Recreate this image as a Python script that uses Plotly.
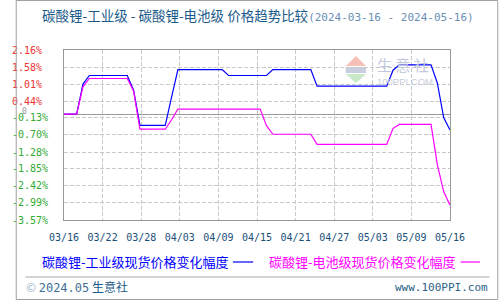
import pandas as pd
import plotly.graph_objects as go

# ---- data -------------------------------------------------------------
start_date = "2024-03-16"
end_date = "2024-05-16"

# daily price change (%) relative to 2024-03-16
industrial_pct = [
    0.00, 0.00, 0.00, 1.01, 1.30, 1.30, 1.30, 1.30, 1.30, 1.30,
    1.30, 0.81, -0.38, -0.38, -0.38, -0.38, -0.38, 0.57, 1.50, 1.50,
    1.50, 1.50, 1.50, 1.50, 1.50, 1.50, 1.30, 1.30, 1.30, 1.30,
    1.30, 1.30, 1.30, 1.50, 1.50, 1.50, 1.50, 1.50, 1.50, 1.50,
    0.94, 0.94, 0.94, 0.94, 0.94, 0.94, 0.94, 0.94, 0.94, 0.94,
    0.94, 0.94, 1.48, 1.66, 1.66, 1.66, 1.66, 1.66, 1.66, 1.05,
    -0.12, -0.54,
]
battery_pct = [
    0.00, 0.00, 0.00, 0.92, 1.20, 1.20, 1.20, 1.20, 1.20, 1.20,
    1.20, 0.77, -0.51, -0.51, -0.51, -0.51, -0.51, -0.19, 0.17, 0.17,
    0.17, 0.17, 0.17, 0.17, 0.17, 0.17, 0.17, 0.17, 0.17, 0.17,
    0.17, 0.17, -0.39, -0.68, -0.68, -0.68, -0.68, -0.68, -0.68, -0.68,
    -1.02, -1.02, -1.02, -1.02, -1.02, -1.02, -1.02, -1.02, -1.02, -1.02,
    -1.02, -1.02, -0.48, -0.35, -0.35, -0.35, -0.35, -0.35, -0.35, -1.70,
    -2.61, -3.07,
]

series_names = ["碳酸锂-工业级现货价格变化幅度", "碳酸锂-电池级现货价格变化幅度"]
series_colors = ["#0000ff", "#ff00ff"]

x_tick_labels = ["03/16", "03/22", "03/28", "04/03", "04/09", "04/15",
                 "04/21", "04/27", "05/03", "05/09", "05/16"]
y_tick_values = [2.16, 1.58, 1.01, 0.44, -0.13, -0.70, -1.28, -1.85,
                 -2.42, -2.99, -3.57]

title_main = "碳酸锂-工业级 - 碳酸锂-电池级 价格趋势比较"
title_dates = "(2024-03-16 - 2024-05-16)"

# ---- geometry ---------------------------------------------------------
W, H = 500, 300
ML, MR, MT, MB = 50, 50, 50, 80
PW, PH = W - ML - MR, H - MT - MB


def px(x):
    return (x - ML) / PW


def py(y):
    return (H - MB - y) / PH


dates = pd.date_range(start_date, end_date, freq="D")
t0, t1 = dates[0], dates[-1]
x_tick_vals = [t0 + (t1 - t0) * i / (len(x_tick_labels) - 1) for i in range(len(x_tick_labels))]

CJK = "Noto Sans CJK SC"
MONO = "DejaVu Sans Mono"

fig = go.Figure()
for vals, name, color in zip([industrial_pct, battery_pct], series_names, series_colors):
    fig.add_trace(go.Scatter(x=dates, y=vals, mode="lines", name=name,
                             line=dict(color=color, width=1.2), showlegend=False))

# y tick labels: positive red, negative green; trailing pad keeps them left-aligned
y_tick_text = []
for v in y_tick_values:
    col = "#ee3333" if v > 0 else "#33aa33"
    s = f"{v:.2f}%"
    if v > 0:
        s = s + "\u00a0"
    y_tick_text.append(f'<span style="color:{col}">{s}</span>')

grid = "#c8c8c8"
fig.update_xaxes(
    range=[t0, t1], tickvals=x_tick_vals, ticktext=x_tick_labels,
    tickfont=dict(family=MONO, size=10, color="#1a4f7a"),
    showgrid=True, gridcolor=grid, griddash="4px,2px", gridwidth=1,
    showline=True, linecolor="#999999", linewidth=1, mirror=True,
    ticks="outside", ticklen=0, ticklabelstandoff=8, zeroline=False,
)
fig.update_yaxes(
    range=[min(y_tick_values), max(y_tick_values)],
    tickvals=y_tick_values, ticktext=y_tick_text,
    tickfont=dict(family=MONO, size=10),
    showgrid=True, gridcolor=grid, griddash="4px,2px", gridwidth=1,
    showline=True, linecolor="#999999", linewidth=1, mirror=True,
    zeroline=True, zerolinecolor="#999999", zerolinewidth=1,
    ticks="outside", ticklen=0, ticklabelstandoff=13,
)

ann = []
shapes = []

# title
ann.append(dict(
    text=f'<span style="color:#1a5a8a">{title_main}</span>'
         f'<span style="color:#6a8fb5;font-family:{MONO};font-size:11px">{title_dates}</span>',
    x=px(25), y=py(15), xref="paper", yref="paper", xanchor="left", yanchor="middle",
    showarrow=False, font=dict(family=CJK, size=13.5, color="#1a5a8a"),
))

# zero marker next to y axis
ann.append(dict(text="0", x=px(4), y=0, xref="paper", yref="y", xanchor="left",
                yanchor="middle", yshift=3, showarrow=False,
                font=dict(family=MONO, size=8, color="#999999")))

# legend rows
legend_pos = [(25, 225, 246), (260, 461, 481)]
for (tx, lx0, lx1), name, color in zip(legend_pos, series_names, series_colors):
    ann.append(dict(text=name, x=px(tx), y=py(261), xref="paper", yref="paper",
                    xanchor="left", yanchor="middle", showarrow=False,
                    font=dict(family=CJK, size=13, color=color)))
    shapes.append(dict(type="line", xref="paper", yref="paper",
                       x0=px(lx0), x1=px(lx1), y0=py(262), y1=py(262),
                       line=dict(color=color, width=1.2)))

# footer
shapes.append(dict(type="line", xref="paper", yref="paper", x0=px(10), x1=px(491),
                   y0=py(277), y1=py(277), line=dict(color="#a8a8a8", width=1)))
ann.append(dict(
    text=f'<span style="color:#9ab0c4">©</span> '
         f'<span style="font-family:{MONO};color:#3f7096">2024.05</span> '
         f'<span style="color:#1a5a8a">生意社</span>',
    x=px(9), y=py(286), xref="paper", yref="paper", xanchor="left", yanchor="middle",
    showarrow=False, font=dict(family=CJK, size=12, color="#1a5a8a"),
))
ann.append(dict(text="www.100PPI.com", x=px(491), y=py(287), xref="paper", yref="paper",
                xanchor="right", yanchor="middle", showarrow=False,
                font=dict(family=MONO, size=11, color="#2a6286")))

# faint watermark logo in the plot area
shapes.append(dict(type="path", xref="paper", yref="paper", layer="below", line=dict(width=0),
                   fillcolor="#f5c0b8",
                   path=f"M {px(342)},{py(66)} L {px(352.5)},{py(56)} L {px(363)},{py(66)} Z"))
shapes.append(dict(type="rect", xref="paper", yref="paper", layer="below", line=dict(width=0),
                   fillcolor="#c9cde0", x0=px(342), x1=px(363), y0=py(73), y1=py(67)))
shapes.append(dict(type="path", xref="paper", yref="paper", layer="below", line=dict(width=0),
                   fillcolor="#c8e8c8",
                   path=f"M {px(342)},{py(74)} L {px(352.5)},{py(83)} L {px(363)},{py(74)} Z"))
ann.append(dict(text="生 意 社", x=px(372), y=py(64), xref="paper", yref="paper",
                xanchor="left", yanchor="middle", showarrow=False,
                font=dict(family=CJK, size=15, color="#c3c9dc")))
ann.append(dict(text="100PPI.COM", x=px(372), y=py(81.5), xref="paper", yref="paper",
                xanchor="left", yanchor="middle", showarrow=False,
                font=dict(family="Liberation Sans", size=9.5, color="#c9cdd9")))

# outer frame
shapes.append(dict(type="rect", xref="paper", yref="paper",
                   x0=px(0.5), x1=px(W - 0.5), y0=py(0.5), y1=py(H - 0.5),
                   line=dict(color="#a0a0a0", width=1)))

fig.update_layout(
    width=W, height=H, margin=dict(l=ML, r=MR, t=MT, b=MB),
    paper_bgcolor="white", plot_bgcolor="white",
    annotations=ann, shapes=shapes, showlegend=False,
)

fig.write_html("out.html")
